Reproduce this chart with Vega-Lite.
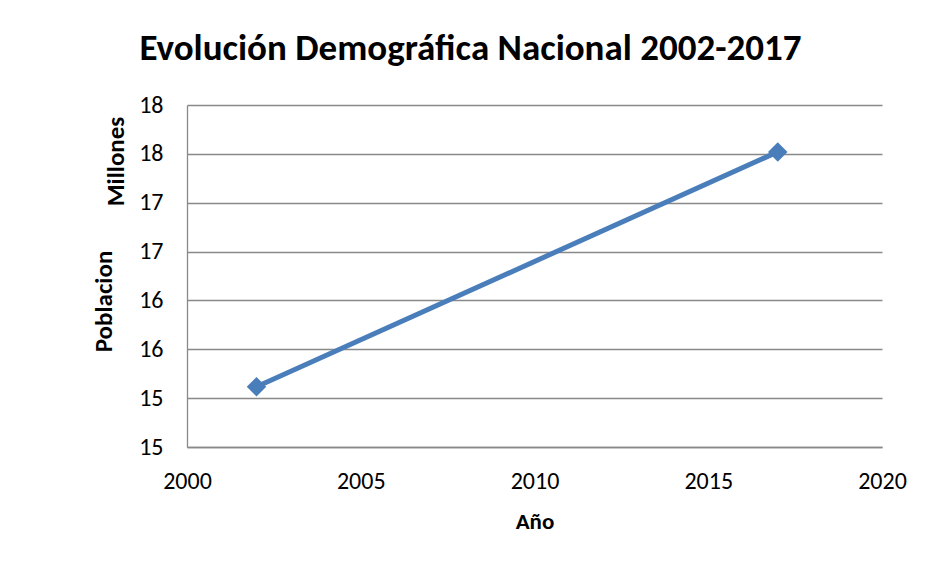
{
  "$schema": "https://vega.github.io/schema/vega-lite/v6.json",
  "width": 695,
  "height": 342,
  "autosize": "none",
  "padding": {"left": 187, "top": 105, "right": 43, "bottom": 118},
  "background": "white",
  "config": {
    "font": "Carlito, Lato, sans-serif",
    "view": {"stroke": null}
  },
  "title": {
    "text": "Evolución Demográfica Nacional 2002-2017",
    "font": "Carlito, Lato, sans-serif",
    "fontSize": 37,
    "fontWeight": "bold",
    "color": "#000000",
    "frame": "group",
    "anchor": "middle",
    "baseline": "alphabetic",
    "offset": -4,
    "dx": -64
  },
  "data": {
    "values": [
      {"anio": 2002, "poblacion": 15.117},
      {"anio": 2017, "poblacion": 17.52}
    ]
  },
  "layer": [
    {
      "mark": {"type": "line", "color": "#4A7EBB", "strokeWidth": 5},
      "encoding": {
        "x": {
          "field": "anio", "type": "quantitative",
          "scale": {"domain": [2000, 2020], "nice": false, "zero": false},
          "axis": {
            "values": [2000, 2005, 2010, 2015, 2020],
            "format": "d",
            "title": "Año",
            "titleFontSize": 23,
            "titleFontWeight": "bold",
            "titleColor": "#000000",
            "titlePadding": 17,
            "labelFontSize": 24,
            "labelColor": "#000000",
            "labelPadding": 22,
            "labelFlush": false,
            "labelBound": false,
            "tickSize": 0,
            "domainColor": "#898989",
            "domainWidth": 1.3,
            "grid": false
          }
        },
        "y": {
          "field": "poblacion", "type": "quantitative",
          "scale": {"domain": [14.5, 18], "nice": false, "zero": false},
          "axis": {
            "values": [14.5, 15, 15.5, 16, 16.5, 17, 17.5, 18],
            "format": ".0f",
            "title": "Poblacion",
            "titleFontSize": 25,
            "titleFontWeight": "bold",
            "titleColor": "#000000",
            "titleX": -76,
            "titleY": 196,
            "titleBaseline": "alphabetic",
            "titleAngle": 270,
            "labelFontSize": 24,
            "labelColor": "#000000",
            "labelPadding": 24,
            "labelFlush": false,
            "tickSize": 0,
            "domainColor": "#898989",
            "domainWidth": 1.3,
            "grid": true,
            "gridColor": "#898989",
            "gridWidth": 1.3
          }
        }
      }
    },
    {
      "mark": {"type": "point", "shape": "diamond", "filled": true, "color": "#4A7EBB", "size": 380, "opacity": 1},
      "encoding": {
        "x": {"field": "anio", "type": "quantitative"},
        "y": {
          "field": "poblacion", "type": "quantitative",
          "axis": {
            "orient": "left",
            "title": "Millones",
            "titleFontSize": 25,
            "titleFontWeight": "bold",
            "titleColor": "#000000",
            "titleX": -64,
            "titleY": 56,
            "titleBaseline": "alphabetic",
            "titleAngle": 270,
            "labels": false,
            "ticks": false,
            "domain": false,
            "grid": false
          }
        }
      }
    }
  ],
  "resolve": {"axis": {"y": "independent"}}
}
